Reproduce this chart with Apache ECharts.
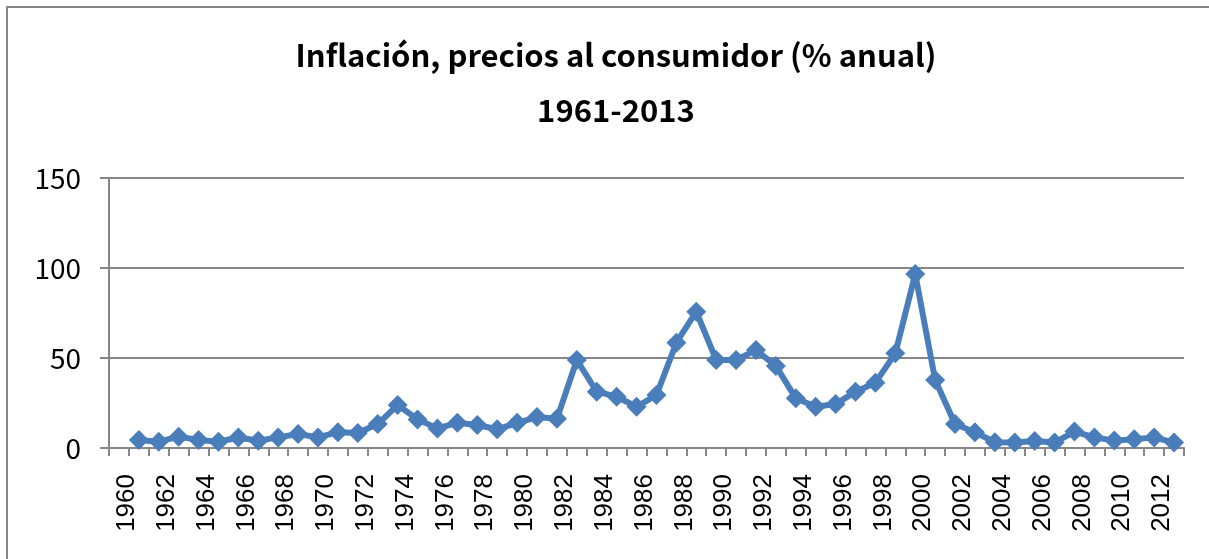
<!DOCTYPE html>
<html>
<head>
<meta charset="utf-8">
<script src="https://cdn.jsdelivr.net/npm/echarts@6/dist/echarts.min.js"></script>
<style>
  html, body { margin: 0; padding: 0; background: #fff; }
  #chart { width: 1209px; height: 559px; }
</style>
</head>
<body>
<div id="chart"></div>
<script>
// años (categorías del eje x)
var years = ['1960', '1961', '1962', '1963', '1964', '1965', '1966', '1967', '1968', '1969',
	'1970', '1971', '1972', '1973', '1974', '1975', '1976', '1977', '1978', '1979',
	'1980', '1981', '1982', '1983', '1984', '1985', '1986', '1987', '1988', '1989',
	'1990', '1991', '1992', '1993', '1994', '1995', '1996', '1997', '1998', '1999',
	'2000', '2001', '2002', '2003', '2004', '2005', '2006', '2007', '2008', '2009',
	'2010', '2011', '2012', '2013'];

// inflación anual (%), 1960 sin dato
var inflation = [null, 4.4, 3.5, 6.3, 4.4, 3.5, 5.8, 4.0, 5.9, 7.8,
	5.9, 8.8, 8.3, 13.3, 23.9, 15.9, 10.9, 14.0, 12.8, 10.4,
	14.0, 17.2, 16.2, 48.9, 31.3, 28.5, 22.9, 29.4, 58.5, 75.7,
	48.9, 48.9, 54.4, 45.6, 27.6, 22.9, 24.4, 31.3, 36.3, 52.6,
	96.7, 37.8, 13.3, 8.8, 3.2, 3.0, 3.9, 3.0, 9.1, 5.9,
	4.1, 4.8, 5.9, 3.0];

var yTicks = [0, 50, 100, 150];

var myChart = echarts.init(document.getElementById('chart'));

var option = {
	animation: false,
	backgroundColor: '#fff',
	title: {
		text: 'Inflación, precios al consumidor (% anual)\n1961-2013',
		left: 611,
		top: 23,
		textAlign: 'center',
		textStyle: {
			fontFamily: 'Noto Sans CJK KR',
			fontWeight: 'bold',
			fontSize: 31,
			lineHeight: 55,
			color: '#000'
		}
	},
	graphic: [{
		type: 'rect',
		shape: { x: 7, y: 7, width: 1300, height: 700 },
		style: { fill: 'none', stroke: '#868686', lineWidth: 2 },
		silent: true
	}],
	grid: {
		left: 109,
		right: 25,
		top: 178,
		bottom: 111
	},
	xAxis: {
		type: 'category',
		data: years,
		boundaryGap: true,
		axisLine: {
			lineStyle: { color: '#868686', width: 2 }
		},
		axisTick: {
			show: true,
			interval: 0,
			length: 8,
			lineStyle: { color: '#868686', width: 2 }
		},
		axisLabel: {
			interval: 1,
			rotate: 90,
			margin: 26,
			color: '#000',
			fontFamily: 'Liberation Sans',
			fontSize: 26,
			verticalAlign: 'top',
			lineHeight: 16
		},
		splitLine: { show: false }
	},
	yAxis: {
		type: 'value',
		min: yTicks[0],
		max: yTicks[yTicks.length - 1],
		interval: 50,
		axisLine: {
			show: true,
			lineStyle: { color: '#868686', width: 2 }
		},
		axisTick: {
			show: true,
			length: 9,
			lineStyle: { color: '#868686', width: 2 }
		},
		axisLabel: {
			margin: 28,
			color: '#000',
			fontFamily: 'Noto Sans CJK KR',
			fontSize: 28
		},
		splitLine: {
			show: true,
			lineStyle: { color: '#868686', width: 2 }
		}
	},
	series: [{
		name: 'Inflación',
		type: 'line',
		data: inflation,
		symbol: 'diamond',
		symbolSize: 20,
		showAllSymbol: true,
		connectNulls: false,
		color: '#4a7ebb',
		lineStyle: { width: 6, color: '#4a7ebb' },
		itemStyle: { color: '#4a7ebb' }
	}]
};

myChart.setOption(option);
</script>
</body>
</html>
